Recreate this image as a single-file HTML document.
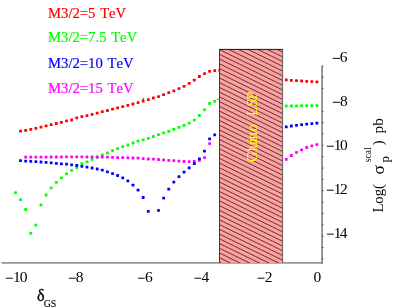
<!DOCTYPE html>
<html><head><meta charset="utf-8"><title>plot</title>
<style>
html,body{margin:0;padding:0;background:#fff;}
body{width:405px;height:307px;overflow:hidden;}
svg{display:block;will-change:transform;font-family:"Liberation Serif",serif;font-kerning:none;}
</style></head><body>
<svg width="405" height="307" viewBox="0 0 405 307">
<rect width="405" height="307" fill="#fff"/>
<!-- axes -->
<path d="M1.5 262.95H322.8" stroke="#969696" stroke-width="1.7" fill="none"/>
<path d="M322.05 65.9V263.8" stroke="#7c7c7c" stroke-width="1.6" fill="none"/>
<path d="M322.1 65.90h1.3M322.1 77.25h1.3M322.1 88.60h1.3M322.1 111.30h1.3M322.1 122.65h1.3M322.1 134.00h1.3M322.1 145.35h1.3M322.1 156.70h1.3M322.1 168.05h1.3M322.1 179.40h1.3M322.1 190.75h1.3M322.1 202.10h1.3M322.1 213.45h1.3M322.1 224.80h1.3M322.1 236.15h1.3M322.1 247.50h1.3M322.1 258.85h1.3" stroke="#2a2a2a" stroke-width="0.9" fill="none"/>
<g font-size="14.4" fill="#000"><rect x="332.7" y="57.88" width="7.30" height="0.95"/><text transform="translate(339.78 62.4) scale(1.075 1)">6</text><rect x="332.7" y="101.78" width="7.30" height="0.95"/><text transform="translate(339.88 106.3) scale(1.075 1)">8</text><rect x="326.8" y="145.72" width="7.00" height="0.95"/><text transform="translate(333.81 150.2) scale(1.075 1)">1</text><text transform="translate(339.88 150.2) scale(1.075 1)">0</text><rect x="326.8" y="189.72" width="7.00" height="0.95"/><text transform="translate(333.81 194.2) scale(1.075 1)">1</text><text transform="translate(339.97 194.2) scale(1.075 1)">2</text><rect x="326.8" y="233.62" width="7.00" height="0.95"/><text transform="translate(333.81 238.1) scale(1.075 1)">1</text><text transform="translate(339.85 238.1) scale(1.075 1)">4</text><rect x="5.8" y="277.72" width="7.10" height="0.95"/><text transform="translate(13.01 282.2) scale(1.075 1)">1</text><text transform="translate(19.68 282.2) scale(1.075 1)">0</text><rect x="68.9" y="277.72" width="6.90" height="0.95"/><text transform="translate(75.78 282.2) scale(1.075 1)">8</text><rect x="138.0" y="277.72" width="6.80" height="0.95"/><text transform="translate(144.98 282.2) scale(1.075 1)">6</text><rect x="194.4" y="277.72" width="6.90" height="0.95"/><text transform="translate(201.50 282.2) scale(1.075 1)">4</text><rect x="257.6" y="277.72" width="6.90" height="0.95"/><text transform="translate(264.67 282.2) scale(1.075 1)">2</text><text transform="translate(313.53 282.2) scale(1.075 1)">0</text></g>
<!-- curves -->
<path d="M143.3 97.9v2.4" stroke="#333" stroke-width="0.9"/>
<rect x="19.14" y="129.80" width="2.8" height="2.8" rx="0.4" fill="#ff0000"/>
<rect x="24.25" y="129.00" width="2.8" height="2.8" rx="0.4" fill="#ff0000"/>
<rect x="29.36" y="128.00" width="2.8" height="2.8" rx="0.4" fill="#ff0000"/>
<rect x="34.47" y="126.90" width="2.8" height="2.8" rx="0.4" fill="#ff0000"/>
<rect x="39.58" y="125.70" width="2.8" height="2.8" rx="0.4" fill="#ff0000"/>
<rect x="44.69" y="124.50" width="2.8" height="2.8" rx="0.4" fill="#ff0000"/>
<rect x="49.80" y="123.30" width="2.8" height="2.8" rx="0.4" fill="#ff0000"/>
<rect x="54.91" y="122.10" width="2.8" height="2.8" rx="0.4" fill="#ff0000"/>
<rect x="60.02" y="120.90" width="2.8" height="2.8" rx="0.4" fill="#ff0000"/>
<rect x="65.13" y="119.50" width="2.8" height="2.8" rx="0.4" fill="#ff0000"/>
<rect x="70.24" y="118.60" width="2.8" height="2.8" rx="0.4" fill="#ff0000"/>
<rect x="75.35" y="116.40" width="2.8" height="2.8" rx="0.4" fill="#ff0000"/>
<rect x="80.46" y="115.20" width="2.8" height="2.8" rx="0.4" fill="#ff0000"/>
<rect x="85.57" y="114.20" width="2.8" height="2.8" rx="0.4" fill="#ff0000"/>
<rect x="90.68" y="112.90" width="2.8" height="2.8" rx="0.4" fill="#ff0000"/>
<rect x="95.79" y="111.70" width="2.8" height="2.8" rx="0.4" fill="#ff0000"/>
<rect x="100.90" y="110.30" width="2.8" height="2.8" rx="0.4" fill="#ff0000"/>
<rect x="106.01" y="109.10" width="2.8" height="2.8" rx="0.4" fill="#ff0000"/>
<rect x="111.12" y="107.70" width="2.8" height="2.8" rx="0.4" fill="#ff0000"/>
<rect x="116.23" y="106.50" width="2.8" height="2.8" rx="0.4" fill="#ff0000"/>
<rect x="121.34" y="105.30" width="2.8" height="2.8" rx="0.4" fill="#ff0000"/>
<rect x="126.45" y="104.00" width="2.8" height="2.8" rx="0.4" fill="#ff0000"/>
<rect x="131.56" y="102.60" width="2.8" height="2.8" rx="0.4" fill="#ff0000"/>
<rect x="136.67" y="101.20" width="2.8" height="2.8" rx="0.4" fill="#ff0000"/>
<rect x="141.78" y="99.60" width="2.8" height="2.8" rx="0.4" fill="#ff0000"/>
<rect x="146.89" y="98.20" width="2.8" height="2.8" rx="0.4" fill="#ff0000"/>
<rect x="152.00" y="96.60" width="2.8" height="2.8" rx="0.4" fill="#ff0000"/>
<rect x="157.11" y="95.20" width="2.8" height="2.8" rx="0.4" fill="#ff0000"/>
<rect x="162.22" y="93.30" width="2.8" height="2.8" rx="0.4" fill="#ff0000"/>
<rect x="167.33" y="91.30" width="2.8" height="2.8" rx="0.4" fill="#ff0000"/>
<rect x="172.44" y="89.50" width="2.8" height="2.8" rx="0.4" fill="#ff0000"/>
<rect x="177.55" y="87.30" width="2.8" height="2.8" rx="0.4" fill="#ff0000"/>
<rect x="182.66" y="85.00" width="2.8" height="2.8" rx="0.4" fill="#ff0000"/>
<rect x="187.77" y="82.00" width="2.8" height="2.8" rx="0.4" fill="#ff0000"/>
<rect x="192.88" y="78.80" width="2.8" height="2.8" rx="0.4" fill="#ff0000"/>
<rect x="197.99" y="75.10" width="2.8" height="2.8" rx="0.4" fill="#ff0000"/>
<rect x="203.10" y="72.30" width="2.8" height="2.8" rx="0.4" fill="#ff0000"/>
<rect x="208.21" y="69.90" width="2.8" height="2.8" rx="0.4" fill="#ff0000"/>
<rect x="213.32" y="69.20" width="2.8" height="2.8" rx="0.4" fill="#ff0000"/>
<rect x="218.43" y="69.00" width="2.8" height="2.8" rx="0.4" fill="#ff0000"/>
<rect x="284.86" y="78.50" width="2.8" height="2.8" rx="0.4" fill="#ff0000"/>
<rect x="289.97" y="79.00" width="2.8" height="2.8" rx="0.4" fill="#ff0000"/>
<rect x="295.08" y="79.30" width="2.8" height="2.8" rx="0.4" fill="#ff0000"/>
<rect x="300.19" y="79.60" width="2.8" height="2.8" rx="0.4" fill="#ff0000"/>
<rect x="305.30" y="79.90" width="2.8" height="2.8" rx="0.4" fill="#ff0000"/>
<rect x="310.41" y="80.20" width="2.8" height="2.8" rx="0.4" fill="#ff0000"/>
<rect x="315.52" y="80.50" width="2.8" height="2.8" rx="0.4" fill="#ff0000"/>
<rect x="14.03" y="191.30" width="2.8" height="2.8" rx="0.4" fill="#00ff00"/>
<rect x="19.14" y="198.30" width="2.8" height="2.8" rx="0.4" fill="#00ff00"/>
<rect x="24.25" y="208.10" width="2.8" height="2.8" rx="0.4" fill="#00ff00"/>
<rect x="29.36" y="232.00" width="2.8" height="2.8" rx="0.4" fill="#00ff00"/>
<rect x="34.47" y="223.70" width="2.8" height="2.8" rx="0.4" fill="#00ff00"/>
<rect x="39.58" y="203.50" width="2.8" height="2.8" rx="0.4" fill="#00ff00"/>
<rect x="44.69" y="193.60" width="2.8" height="2.8" rx="0.4" fill="#00ff00"/>
<rect x="49.80" y="186.50" width="2.8" height="2.8" rx="0.4" fill="#00ff00"/>
<rect x="54.91" y="181.00" width="2.8" height="2.8" rx="0.4" fill="#00ff00"/>
<rect x="60.02" y="176.50" width="2.8" height="2.8" rx="0.4" fill="#00ff00"/>
<rect x="65.13" y="172.50" width="2.8" height="2.8" rx="0.4" fill="#00ff00"/>
<rect x="70.24" y="168.90" width="2.8" height="2.8" rx="0.4" fill="#00ff00"/>
<rect x="75.35" y="166.20" width="2.8" height="2.8" rx="0.4" fill="#00ff00"/>
<rect x="80.46" y="162.30" width="2.8" height="2.8" rx="0.4" fill="#00ff00"/>
<rect x="85.57" y="160.40" width="2.8" height="2.8" rx="0.4" fill="#00ff00"/>
<rect x="90.68" y="158.00" width="2.8" height="2.8" rx="0.4" fill="#00ff00"/>
<rect x="95.79" y="156.00" width="2.8" height="2.8" rx="0.4" fill="#00ff00"/>
<rect x="100.90" y="153.60" width="2.8" height="2.8" rx="0.4" fill="#00ff00"/>
<rect x="106.01" y="151.50" width="2.8" height="2.8" rx="0.4" fill="#00ff00"/>
<rect x="111.12" y="149.30" width="2.8" height="2.8" rx="0.4" fill="#00ff00"/>
<rect x="116.23" y="147.30" width="2.8" height="2.8" rx="0.4" fill="#00ff00"/>
<rect x="121.34" y="145.30" width="2.8" height="2.8" rx="0.4" fill="#00ff00"/>
<rect x="126.45" y="143.60" width="2.8" height="2.8" rx="0.4" fill="#00ff00"/>
<rect x="131.56" y="141.60" width="2.8" height="2.8" rx="0.4" fill="#00ff00"/>
<rect x="136.67" y="139.80" width="2.8" height="2.8" rx="0.4" fill="#00ff00"/>
<rect x="141.78" y="138.40" width="2.8" height="2.8" rx="0.4" fill="#00ff00"/>
<rect x="146.89" y="136.90" width="2.8" height="2.8" rx="0.4" fill="#00ff00"/>
<rect x="152.00" y="135.10" width="2.8" height="2.8" rx="0.4" fill="#00ff00"/>
<rect x="157.11" y="133.30" width="2.8" height="2.8" rx="0.4" fill="#00ff00"/>
<rect x="162.22" y="131.50" width="2.8" height="2.8" rx="0.4" fill="#00ff00"/>
<rect x="167.33" y="130.00" width="2.8" height="2.8" rx="0.4" fill="#00ff00"/>
<rect x="172.44" y="128.00" width="2.8" height="2.8" rx="0.4" fill="#00ff00"/>
<rect x="177.55" y="126.00" width="2.8" height="2.8" rx="0.4" fill="#00ff00"/>
<rect x="182.66" y="124.00" width="2.8" height="2.8" rx="0.4" fill="#00ff00"/>
<rect x="187.77" y="121.70" width="2.8" height="2.8" rx="0.4" fill="#00ff00"/>
<rect x="192.88" y="118.70" width="2.8" height="2.8" rx="0.4" fill="#00ff00"/>
<rect x="197.99" y="114.10" width="2.8" height="2.8" rx="0.4" fill="#00ff00"/>
<rect x="203.10" y="108.40" width="2.8" height="2.8" rx="0.4" fill="#00ff00"/>
<rect x="208.21" y="102.10" width="2.8" height="2.8" rx="0.4" fill="#00ff00"/>
<rect x="213.32" y="99.90" width="2.8" height="2.8" rx="0.4" fill="#00ff00"/>
<rect x="284.86" y="104.60" width="2.8" height="2.8" rx="0.4" fill="#00ff00"/>
<rect x="289.97" y="104.60" width="2.8" height="2.8" rx="0.4" fill="#00ff00"/>
<rect x="295.08" y="104.50" width="2.8" height="2.8" rx="0.4" fill="#00ff00"/>
<rect x="300.19" y="104.30" width="2.8" height="2.8" rx="0.4" fill="#00ff00"/>
<rect x="305.30" y="104.30" width="2.8" height="2.8" rx="0.4" fill="#00ff00"/>
<rect x="310.41" y="104.20" width="2.8" height="2.8" rx="0.4" fill="#00ff00"/>
<rect x="315.52" y="104.20" width="2.8" height="2.8" rx="0.4" fill="#00ff00"/>
<rect x="24.25" y="155.70" width="2.8" height="2.8" rx="0.4" fill="#ff00ff"/>
<rect x="29.36" y="155.70" width="2.8" height="2.8" rx="0.4" fill="#ff00ff"/>
<rect x="34.47" y="155.70" width="2.8" height="2.8" rx="0.4" fill="#ff00ff"/>
<rect x="39.58" y="155.70" width="2.8" height="2.8" rx="0.4" fill="#ff00ff"/>
<rect x="44.69" y="155.70" width="2.8" height="2.8" rx="0.4" fill="#ff00ff"/>
<rect x="49.80" y="155.60" width="2.8" height="2.8" rx="0.4" fill="#ff00ff"/>
<rect x="54.91" y="155.60" width="2.8" height="2.8" rx="0.4" fill="#ff00ff"/>
<rect x="60.02" y="155.50" width="2.8" height="2.8" rx="0.4" fill="#ff00ff"/>
<rect x="65.13" y="155.50" width="2.8" height="2.8" rx="0.4" fill="#ff00ff"/>
<rect x="70.24" y="155.40" width="2.8" height="2.8" rx="0.4" fill="#ff00ff"/>
<rect x="75.35" y="155.40" width="2.8" height="2.8" rx="0.4" fill="#ff00ff"/>
<rect x="80.46" y="155.40" width="2.8" height="2.8" rx="0.4" fill="#ff00ff"/>
<rect x="85.57" y="155.60" width="2.8" height="2.8" rx="0.4" fill="#ff00ff"/>
<rect x="90.68" y="155.60" width="2.8" height="2.8" rx="0.4" fill="#ff00ff"/>
<rect x="95.79" y="155.60" width="2.8" height="2.8" rx="0.4" fill="#ff00ff"/>
<rect x="100.90" y="155.80" width="2.8" height="2.8" rx="0.4" fill="#ff00ff"/>
<rect x="106.01" y="155.80" width="2.8" height="2.8" rx="0.4" fill="#ff00ff"/>
<rect x="111.12" y="156.00" width="2.8" height="2.8" rx="0.4" fill="#ff00ff"/>
<rect x="116.23" y="156.20" width="2.8" height="2.8" rx="0.4" fill="#ff00ff"/>
<rect x="121.34" y="156.20" width="2.8" height="2.8" rx="0.4" fill="#ff00ff"/>
<rect x="126.45" y="156.40" width="2.8" height="2.8" rx="0.4" fill="#ff00ff"/>
<rect x="131.56" y="156.60" width="2.8" height="2.8" rx="0.4" fill="#ff00ff"/>
<rect x="136.67" y="156.80" width="2.8" height="2.8" rx="0.4" fill="#ff00ff"/>
<rect x="141.78" y="157.20" width="2.8" height="2.8" rx="0.4" fill="#ff00ff"/>
<rect x="146.89" y="157.60" width="2.8" height="2.8" rx="0.4" fill="#ff00ff"/>
<rect x="152.00" y="157.80" width="2.8" height="2.8" rx="0.4" fill="#ff00ff"/>
<rect x="157.11" y="158.10" width="2.8" height="2.8" rx="0.4" fill="#ff00ff"/>
<rect x="162.22" y="158.50" width="2.8" height="2.8" rx="0.4" fill="#ff00ff"/>
<rect x="167.33" y="158.90" width="2.8" height="2.8" rx="0.4" fill="#ff00ff"/>
<rect x="172.44" y="159.30" width="2.8" height="2.8" rx="0.4" fill="#ff00ff"/>
<rect x="177.55" y="159.70" width="2.8" height="2.8" rx="0.4" fill="#ff00ff"/>
<rect x="182.66" y="160.10" width="2.8" height="2.8" rx="0.4" fill="#ff00ff"/>
<rect x="187.77" y="160.30" width="2.8" height="2.8" rx="0.4" fill="#ff00ff"/>
<rect x="192.88" y="160.10" width="2.8" height="2.8" rx="0.4" fill="#ff00ff"/>
<rect x="197.99" y="158.90" width="2.8" height="2.8" rx="0.4" fill="#ff00ff"/>
<rect x="203.10" y="156.20" width="2.8" height="2.8" rx="0.4" fill="#ff00ff"/>
<rect x="208.21" y="142.20" width="2.8" height="2.8" rx="0.4" fill="#ff00ff"/>
<rect x="284.86" y="158.00" width="2.8" height="2.8" rx="0.4" fill="#ff00ff"/>
<rect x="289.97" y="154.10" width="2.8" height="2.8" rx="0.4" fill="#ff00ff"/>
<rect x="295.08" y="151.00" width="2.8" height="2.8" rx="0.4" fill="#ff00ff"/>
<rect x="300.19" y="148.50" width="2.8" height="2.8" rx="0.4" fill="#ff00ff"/>
<rect x="305.30" y="146.10" width="2.8" height="2.8" rx="0.4" fill="#ff00ff"/>
<rect x="310.41" y="144.50" width="2.8" height="2.8" rx="0.4" fill="#ff00ff"/>
<rect x="315.52" y="143.20" width="2.8" height="2.8" rx="0.4" fill="#ff00ff"/>
<rect x="19.14" y="159.30" width="2.8" height="2.8" rx="0.4" fill="#0000ff"/>
<rect x="24.25" y="159.70" width="2.8" height="2.8" rx="0.4" fill="#0000ff"/>
<rect x="29.36" y="159.90" width="2.8" height="2.8" rx="0.4" fill="#0000ff"/>
<rect x="34.47" y="160.30" width="2.8" height="2.8" rx="0.4" fill="#0000ff"/>
<rect x="39.58" y="160.60" width="2.8" height="2.8" rx="0.4" fill="#0000ff"/>
<rect x="44.69" y="161.00" width="2.8" height="2.8" rx="0.4" fill="#0000ff"/>
<rect x="49.80" y="161.40" width="2.8" height="2.8" rx="0.4" fill="#0000ff"/>
<rect x="54.91" y="162.00" width="2.8" height="2.8" rx="0.4" fill="#0000ff"/>
<rect x="60.02" y="162.40" width="2.8" height="2.8" rx="0.4" fill="#0000ff"/>
<rect x="65.13" y="162.80" width="2.8" height="2.8" rx="0.4" fill="#0000ff"/>
<rect x="70.24" y="163.40" width="2.8" height="2.8" rx="0.4" fill="#0000ff"/>
<rect x="75.35" y="164.10" width="2.8" height="2.8" rx="0.4" fill="#0000ff"/>
<rect x="80.46" y="164.90" width="2.8" height="2.8" rx="0.4" fill="#0000ff"/>
<rect x="85.57" y="165.70" width="2.8" height="2.8" rx="0.4" fill="#0000ff"/>
<rect x="90.68" y="166.60" width="2.8" height="2.8" rx="0.4" fill="#0000ff"/>
<rect x="95.79" y="167.60" width="2.8" height="2.8" rx="0.4" fill="#0000ff"/>
<rect x="100.90" y="168.80" width="2.8" height="2.8" rx="0.4" fill="#0000ff"/>
<rect x="106.01" y="170.40" width="2.8" height="2.8" rx="0.4" fill="#0000ff"/>
<rect x="111.12" y="172.20" width="2.8" height="2.8" rx="0.4" fill="#0000ff"/>
<rect x="116.23" y="174.10" width="2.8" height="2.8" rx="0.4" fill="#0000ff"/>
<rect x="121.34" y="176.50" width="2.8" height="2.8" rx="0.4" fill="#0000ff"/>
<rect x="126.45" y="179.50" width="2.8" height="2.8" rx="0.4" fill="#0000ff"/>
<rect x="131.56" y="183.80" width="2.8" height="2.8" rx="0.4" fill="#0000ff"/>
<rect x="136.67" y="188.80" width="2.8" height="2.8" rx="0.4" fill="#0000ff"/>
<rect x="141.78" y="196.10" width="2.8" height="2.8" rx="0.4" fill="#0000ff"/>
<rect x="146.89" y="209.90" width="2.8" height="2.8" rx="0.4" fill="#0000ff"/>
<rect x="157.11" y="209.00" width="2.8" height="2.8" rx="0.4" fill="#0000ff"/>
<rect x="162.22" y="196.70" width="2.8" height="2.8" rx="0.4" fill="#0000ff"/>
<rect x="167.33" y="187.80" width="2.8" height="2.8" rx="0.4" fill="#0000ff"/>
<rect x="172.44" y="180.70" width="2.8" height="2.8" rx="0.4" fill="#0000ff"/>
<rect x="177.55" y="175.30" width="2.8" height="2.8" rx="0.4" fill="#0000ff"/>
<rect x="182.66" y="170.80" width="2.8" height="2.8" rx="0.4" fill="#0000ff"/>
<rect x="187.77" y="166.40" width="2.8" height="2.8" rx="0.4" fill="#0000ff"/>
<rect x="192.88" y="162.30" width="2.8" height="2.8" rx="0.4" fill="#0000ff"/>
<rect x="197.99" y="157.40" width="2.8" height="2.8" rx="0.4" fill="#0000ff"/>
<rect x="203.10" y="149.70" width="2.8" height="2.8" rx="0.4" fill="#0000ff"/>
<rect x="208.21" y="137.50" width="2.8" height="2.8" rx="0.4" fill="#0000ff"/>
<rect x="213.32" y="133.50" width="2.8" height="2.8" rx="0.4" fill="#0000ff"/>
<rect x="284.86" y="125.50" width="2.8" height="2.8" rx="0.4" fill="#0000ff"/>
<rect x="289.97" y="124.60" width="2.8" height="2.8" rx="0.4" fill="#0000ff"/>
<rect x="295.08" y="123.90" width="2.8" height="2.8" rx="0.4" fill="#0000ff"/>
<rect x="300.19" y="123.30" width="2.8" height="2.8" rx="0.4" fill="#0000ff"/>
<rect x="305.30" y="122.70" width="2.8" height="2.8" rx="0.4" fill="#0000ff"/>
<rect x="310.41" y="122.20" width="2.8" height="2.8" rx="0.4" fill="#0000ff"/>
<rect x="315.52" y="121.80" width="2.8" height="2.8" rx="0.4" fill="#0000ff"/>
<rect x="217.3" y="98.9" width="1" height="1" fill="#222"/>
<!-- band -->
<rect x="219.3" y="49.2" width="63.10" height="213.70" fill="#ff9f9f"/>
<clipPath id="c"><rect x="219.3" y="49.2" width="63.10" height="213.70"/></clipPath>
<path d="M219.30 16.39L282.40 47.31M219.30 21.12L282.40 52.04M219.30 25.85L282.40 56.77M219.30 30.58L282.40 61.50M219.30 35.31L282.40 66.23M219.30 40.04L282.40 70.96M219.30 44.77L282.40 75.69M219.30 49.50L282.40 80.42M219.30 54.23L282.40 85.15M219.30 58.96L282.40 89.88M219.30 63.69L282.40 94.61M219.30 68.42L282.40 99.34M219.30 73.15L282.40 104.07M219.30 77.88L282.40 108.80M219.30 82.61L282.40 113.53M219.30 87.34L282.40 118.26M219.30 92.07L282.40 122.99M219.30 96.80L282.40 127.72M219.30 101.53L282.40 132.45M219.30 106.26L282.40 137.18M219.30 110.99L282.40 141.91M219.30 115.72L282.40 146.64M219.30 120.45L282.40 151.37M219.30 125.18L282.40 156.10M219.30 129.91L282.40 160.83M219.30 134.64L282.40 165.56M219.30 139.37L282.40 170.29M219.30 144.10L282.40 175.02M219.30 148.83L282.40 179.75M219.30 153.56L282.40 184.48M219.30 158.29L282.40 189.21M219.30 163.02L282.40 193.94M219.30 167.75L282.40 198.67M219.30 172.48L282.40 203.40M219.30 177.21L282.40 208.13M219.30 181.94L282.40 212.86M219.30 186.67L282.40 217.59M219.30 191.40L282.40 222.32M219.30 196.13L282.40 227.05M219.30 200.86L282.40 231.78M219.30 205.59L282.40 236.51M219.30 210.32L282.40 241.24M219.30 215.05L282.40 245.97M219.30 219.78L282.40 250.70M219.30 224.51L282.40 255.43M219.30 229.24L282.40 260.16M219.30 233.97L282.40 264.89M219.30 238.70L282.40 269.62M219.30 243.43L282.40 274.35M219.30 248.16L282.40 279.08M219.30 252.89L282.40 283.81M219.30 257.62L282.40 288.54M219.30 262.35L282.40 293.27" stroke="#000" stroke-width="0.66" clip-path="url(#c)" fill="none"/>
<path d="M219.5 262.9V49" fill="none" stroke="#222" stroke-width="0.85"/><path d="M219.05 49.4H283" fill="none" stroke="#161616" stroke-width="1"/><path d="M282.6 49V262.9" fill="none" stroke="#3c3c3c" stroke-width="0.8"/>
<g transform="translate(256.8 161.9) rotate(-90)" font-size="14.7" fill="#ffff00"><text x="0 10.5 13.2 19.7 22.6 30.5" y="0">Gluino</text><text x="45.9 55.1 62.3" y="0">LSP</text></g>
<!-- legend -->
<g font-size="14.7" style="word-spacing:1.0px;font-kerning:none">
<text x="48.0" y="17.6" fill="#ff0000" stroke="#ff0000" stroke-width="0.18">M3/2=5 TeV</text>
<text x="48.0" y="42.4" fill="#00ff00" stroke="#00ff00" stroke-width="0.18">M3/2=7.5 TeV</text>
<text x="48.0" y="67.9" fill="#0000ff" stroke="#0000ff" stroke-width="0.18">M3/2=10 TeV</text>
<text x="48.0" y="93.4" fill="#ff00ff" stroke="#ff00ff" stroke-width="0.18">M3/2=15 TeV</text>
</g>
<!-- x label -->
<text x="37.0" y="300.6" font-size="16" stroke="#000" stroke-width="0.3">δ</text>
<text x="43.7" y="307.3" font-size="9.8" stroke="#000" stroke-width="0.15">GS</text>
<!-- y label -->
<g transform="translate(383.2 212.6) rotate(-90)" fill="#000">
<text x="0" y="0" font-size="14.7">Log(</text>
<text transform="translate(38.2 0.3) scale(0.97 0.87)" font-size="18">σ</text>
<text x="50.2" y="5.6" font-size="13">p</text>
<text x="50.4" y="-12.5" font-size="9.6">scal</text>
<text x="67.4" y="0" font-size="14.7">)</text>
<text x="79.2" y="0" font-size="15.4">pb</text>
</g>
</svg>
</body></html>
